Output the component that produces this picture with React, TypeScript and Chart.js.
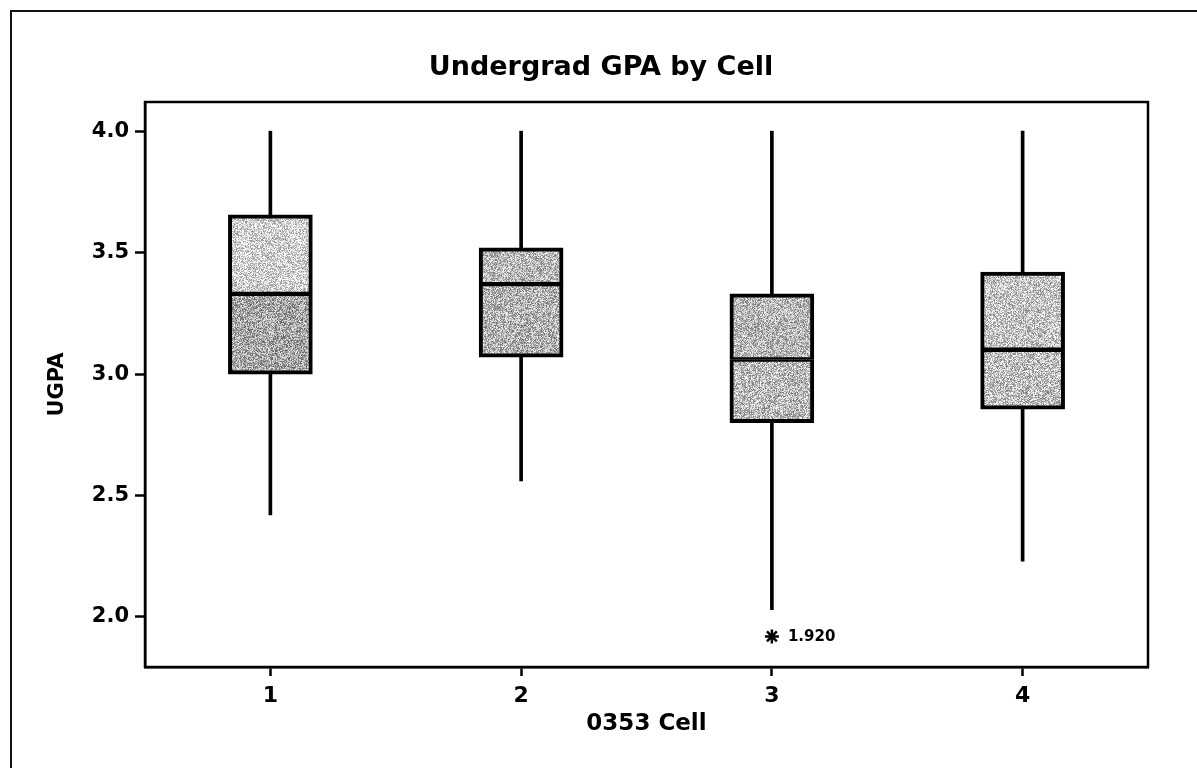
import React, { useEffect, useRef } from "react";
import { Chart, registerables } from "chart.js";

Chart.register(...registerables);

// ---- data ----
const cells = [1, 2, 3, 4];
const whiskerLow = [2.42, 2.56, 2.03, 2.23];
const q1 = [3.0, 3.07, 2.8, 2.855];
const medians = [3.33, 3.37, 3.06, 3.1];
const q3 = [3.655, 3.52, 3.33, 3.42];
const whiskerHigh = [4.0, 4.0, 4.0, 4.0];
const outlierCells = [3];
const outlierValues = [1.92];
const yTickValues = [2.0, 2.5, 3.0, 3.5, 4.0];
const xTickValues = [1, 2, 3, 4];
const chartTitle = "Undergrad GPA by Cell";
const xTitle = "0353 Cell";
const yTitle = "UGPA";

const FONT = "'DejaVu Sans', 'Verdana', sans-serif";

function makeNoise(base: number, amp: number, seed: number): CanvasPattern | string {
  const c = document.createElement("canvas");
  const n = 97;
  c.width = n;
  c.height = n;
  const ctx = c.getContext("2d");
  if (!ctx) return `rgb(${base},${base},${base})`;
  const img = ctx.createImageData(n, n);
  let s = seed >>> 0;
  for (let i = 0; i < n * n; i++) {
    s = (Math.imul(s, 1103515245) + 12345) >>> 0;
    const r = ((s >>> 16) & 0xff) / 255;
    let v = base + (r - 0.5) * amp;
    v = Math.max(0, Math.min(255, v));
    img.data[i * 4] = v;
    img.data[i * 4 + 1] = v;
    img.data[i * 4 + 2] = v;
    img.data[i * 4 + 3] = 255;
  }
  ctx.putImageData(img, 0, 0);
  const p = ctx.createPattern(c, "repeat");
  return p || `rgb(${base},${base},${base})`;
}

export default function App() {
  const ref = useRef<HTMLCanvasElement>(null);

  useEffect(() => {
    const canvas = ref.current;
    if (!canvas) return;

    const upperShades = [210, 184, 182, 196];
    const lowerShades = [166, 178, 186, 192];
    const upperFills = upperShades.map((b, i) => makeNoise(b, 130, 17 + i * 31));
    const lowerFills = lowerShades.map((b, i) => makeNoise(b, 140, 101 + i * 47));

    const framePlugin = {
      id: "plotFrame",
      afterDraw(chart: any) {
        const { ctx, chartArea } = chart;
        ctx.save();
        ctx.strokeStyle = "#000";
        ctx.lineWidth = 2.5;
        ctx.strokeRect(chartArea.left, chartArea.top, chartArea.right - chartArea.left, chartArea.bottom - chartArea.top);
        ctx.restore();
      },
    };

    const titlePlugin = {
      id: "plainTitle",
      afterDraw(chart: any) {
        const ctx = chart.ctx;
        ctx.save();
        ctx.fillStyle = "#000";
        ctx.font = `bold 27px ${FONT}`;
        ctx.textAlign = "center";
        ctx.textBaseline = "middle";
        ctx.fillText(chartTitle, 601, 68);
        ctx.restore();
      },
    };

    const outlierLabelPlugin = {
      id: "outlierLabels",
      afterDatasetsDraw(chart: any) {
        const meta = chart.getDatasetMeta(4);
        const ctx = chart.ctx;
        ctx.save();
        ctx.fillStyle = "#000";
        ctx.font = `bold 15px ${FONT}`;
        ctx.textAlign = "left";
        ctx.textBaseline = "middle";
        meta.data.forEach((pt: any, i: number) => {
          ctx.fillText(outlierValues[i].toFixed(3), pt.x + 16, pt.y + 1);
        });
        ctx.restore();
      },
    };

    const chart = new Chart(canvas, {
      type: "bar",
      data: {
        datasets: [
          {
            label: "upper whisker",
            data: cells.map((c, i) => ({ x: c, y: [q3[i], whiskerHigh[i]] })) as any,
            backgroundColor: "#000",
            borderWidth: 0,
            barThickness: 3,
            grouped: false,
            order: 5,
          } as any,
          {
            label: "lower whisker",
            data: cells.map((c, i) => ({ x: c, y: [whiskerLow[i], q1[i]] })) as any,
            backgroundColor: "#000",
            borderWidth: 0,
            barThickness: 3,
            grouped: false,
            order: 5,
          } as any,
          {
            label: "upper box",
            data: cells.map((c, i) => ({ x: c, y: [medians[i], q3[i]] })) as any,
            backgroundColor: upperFills as any,
            borderColor: "#000",
            borderWidth: { top: 4, left: 4, right: 4, bottom: 2.5 },
            borderSkipped: false,
            barThickness: 84,
            grouped: false,
            order: 2,
          } as any,
          {
            label: "lower box",
            data: cells.map((c, i) => ({ x: c, y: [q1[i], medians[i]] })) as any,
            backgroundColor: lowerFills as any,
            borderColor: "#000",
            borderWidth: { top: 2.5, left: 4, right: 4, bottom: 4 },
            borderSkipped: false,
            barThickness: 84,
            grouped: false,
            order: 2,
          } as any,
          {
            type: "scatter",
            label: "outliers",
            data: outlierCells.map((c, i) => ({ x: c, y: outlierValues[i] })),
            pointStyle: "star",
            radius: 7,
            borderWidth: 2.5,
            borderColor: "#000",
            backgroundColor: "#000",
            order: 1,
          } as any,
        ],
      },
      options: {
        responsive: false,
        devicePixelRatio: 1,
        animation: false,
        layout: { padding: { left: 0, right: 49, top: 102, bottom: 0 } },
        plugins: {
          legend: { display: false },
          tooltip: { enabled: false },
          title: { display: false },
        },
        scales: {
          x: {
            type: "linear",
            min: 0.5,
            max: 4.5,
            offset: false,
            afterFit: (s: any) => {
              s.height = 101;
            },
            afterBuildTicks: (s: any) => {
              s.ticks = xTickValues.map((v) => ({ value: v }));
            },
            ticks: {
              color: "#000",
              font: { family: FONT, size: 22, weight: "bold" },
              padding: 7,
              callback: (v: any) => String(v),
            },
            grid: {
              offset: false,
              drawOnChartArea: false,
              drawTicks: true,
              tickLength: 9,
              tickColor: "#000",
              tickWidth: 2.5,
              color: "#000",
            },
            border: { display: true, color: "#000", width: 2.5 },
            title: {
              display: true,
              text: xTitle,
              color: "#000",
              font: { family: FONT, size: 23, weight: "bold", lineHeight: 1.2 },
              padding: { top: 0, bottom: 30.2 },
            },
          },
          y: {
            type: "linear",
            min: 1.794,
            max: 4.12,
            afterFit: (s: any) => {
              s.width = 145;
            },
            afterBuildTicks: (s: any) => {
              s.ticks = yTickValues.map((v) => ({ value: v }));
            },
            ticks: {
              color: "#000",
              font: { family: FONT, size: 21, weight: "bold" },
              padding: 6,
              callback: (v: any) => Number(v).toFixed(1),
            },
            grid: {
              drawOnChartArea: false,
              drawTicks: true,
              tickLength: 10,
              tickColor: "#000",
              tickWidth: 2.5,
              color: "#000",
            },
            border: { display: true, color: "#000", width: 2.5 },
            title: {
              display: true,
              text: yTitle,
              color: "#000",
              font: { family: FONT, size: 21, weight: "bold", lineHeight: 1.2 },
              padding: { top: 45, bottom: 0 },
            },
          },
        },
      } as any,
      plugins: [framePlugin, outlierLabelPlugin, titlePlugin],
    });

    return () => {
      chart.destroy();
    };
  }, []);

  return (
    <div
      style={{
        position: "fixed",
        left: 0,
        top: 0,
        width: 1197,
        height: 768,
        overflow: "hidden",
        background: "#fff",
      }}
    >
      <canvas ref={ref} width={1197} height={768} style={{ display: "block", width: 1197, height: 768 }} />
      <div
        style={{
          position: "absolute",
          left: 10,
          top: 10,
          width: 1400,
          height: 1000,
          border: "2px solid #111",
          pointerEvents: "none",
        }}
      />
    </div>
  );
}
